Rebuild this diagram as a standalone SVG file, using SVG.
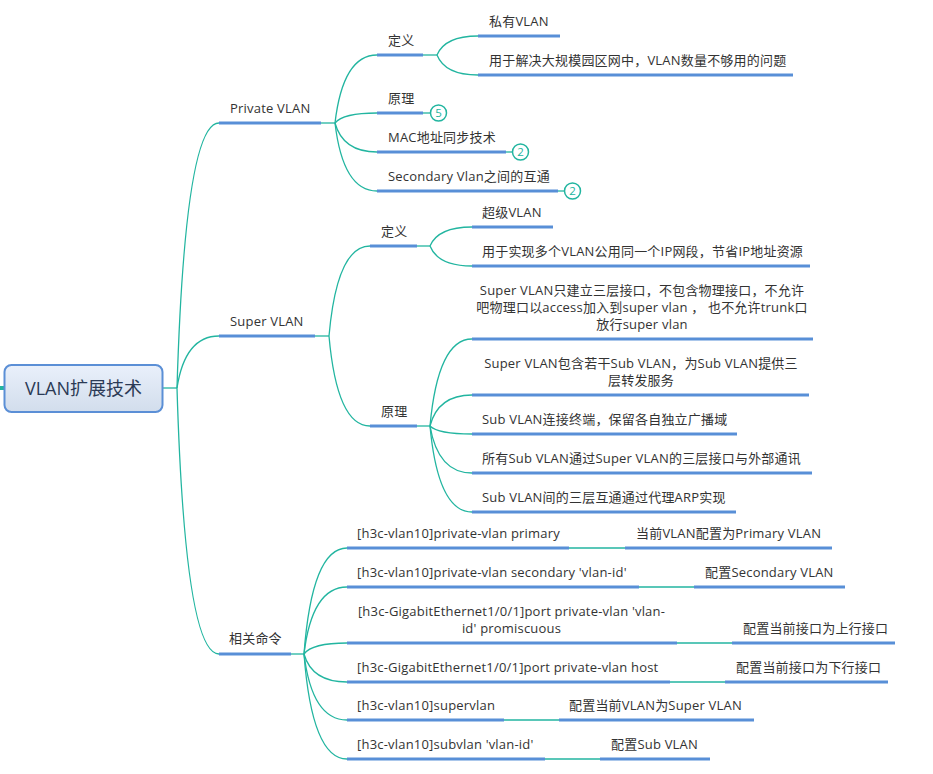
<svg xmlns="http://www.w3.org/2000/svg" width="933" height="774" viewBox="0 0 933 774">
<defs>
<linearGradient id="rootGrad" x1="0" y1="0" x2="0" y2="1">
<stop offset="0" stop-color="#e9f0fb"/>
<stop offset="1" stop-color="#d2ddec"/>
</linearGradient>
</defs>
<style>
text{font-family:"Open Sans","Noto Sans CJK SC",sans-serif;font-size:13px;fill:#333333;letter-spacing:0.2px}
.ul{stroke:#588fd7;stroke-width:3;fill:none}
.cn{stroke:#22b5a0;stroke-width:1.3;fill:none}
.badge circle{fill:#ffffff;stroke:#22b5a0;stroke-width:1.5}
.badge text{fill:#22b5a0;font-size:11.5px;letter-spacing:0;text-anchor:middle}
.mid{text-anchor:middle}
</style>
<g id="connectors">
<rect x="0" y="386" width="4" height="4" fill="#22b5a0"/>
<path class="cn" d="M163,388 H177"/>
<path class="cn" d="M177,388 Q185,123 219,123"/>
<path class="cn" d="M177,388 Q185,336 219,336"/>
<path class="cn" d="M177,388 Q185,654 219,654"/>
<path class="cn" d="M321,123 H335"/>
<path class="cn" d="M335,123 Q343,55 377,55"/>
<path class="cn" d="M335,123 Q343,113 377,113"/>
<path class="cn" d="M335,123 Q343,152 377,152"/>
<path class="cn" d="M335,123 Q343,191 377,191"/>
<path class="cn" d="M423,55 H437"/>
<path class="cn" d="M437,55 Q445,36 478,36"/>
<path class="cn" d="M437,55 Q445,75 478,75"/>
<path class="cn" d="M423,113 H430"/>
<path class="cn" d="M506,152 H512"/>
<path class="cn" d="M558,191 H564"/>
<path class="cn" d="M315,336 H329"/>
<path class="cn" d="M329,336 Q337,246 370,246"/>
<path class="cn" d="M329,336 Q337,426 370,426"/>
<path class="cn" d="M417,246 H430"/>
<path class="cn" d="M430,246 Q438,227 472,227"/>
<path class="cn" d="M430,246 Q438,266 472,266"/>
<path class="cn" d="M417,426 H430"/>
<path class="cn" d="M430,426 Q438,339 472,339"/>
<path class="cn" d="M430,426 Q438,395 472,395"/>
<path class="cn" d="M430,426 Q438,434 472,434"/>
<path class="cn" d="M430,426 Q438,473 472,473"/>
<path class="cn" d="M430,426 Q438,512 472,512"/>
<path class="cn" d="M291,654 H304"/>
<path class="cn" d="M304,654 Q312,548 347,548"/>
<path class="cn" d="M304,654 Q312,587 347,587"/>
<path class="cn" d="M304,654 Q312,643 347,643"/>
<path class="cn" d="M304,654 Q312,682 347,682"/>
<path class="cn" d="M304,654 Q312,720 347,720"/>
<path class="cn" d="M304,654 Q312,759 347,759"/>
<path class="cn" d="M569,548 H625"/>
<path class="cn" d="M639,587 H694"/>
<path class="cn" d="M677,643 H732"/>
<path class="cn" d="M670,682 H725"/>
<path class="cn" d="M504,720 H559"/>
<path class="cn" d="M545,759 H600"/>
</g>
<g id="root">
<rect x="4.5" y="365" width="158" height="47" rx="7" fill="url(#rootGrad)" stroke="#5b8fd6" stroke-width="2"/>
<text x="83.5" y="395" class="mid" style="font-size:18px;fill:#2b3a55;letter-spacing:0">VLAN扩展技术</text>
</g>
<g id="private-vlan">
<line class="ul" x1="219" y1="123" x2="321" y2="123"/>
<text x="230" y="113">Private VLAN</text>
</g>
<g id="pv-def">
<line class="ul" x1="377" y1="55" x2="423" y2="55"/>
<text x="388" y="45">定义</text>
</g>
<g id="pv-def-1">
<line class="ul" x1="478" y1="36" x2="560" y2="36"/>
<text x="489" y="26">私有VLAN</text>
</g>
<g id="pv-def-2">
<line class="ul" x1="478" y1="75" x2="793" y2="75"/>
<text x="489" y="65">用于解决大规模园区网中，VLAN数量不够用的问题</text>
</g>
<g id="pv-principle">
<line class="ul" x1="377" y1="113" x2="423" y2="113"/>
<text x="388" y="103">原理</text>
<g class="badge"><circle cx="438.5" cy="113" r="8"/><text x="438.5" y="117">5</text></g>
</g>
<g id="pv-mac">
<line class="ul" x1="377" y1="152" x2="506" y2="152"/>
<text x="388" y="142">MAC地址同步技术</text>
<g class="badge"><circle cx="520.5" cy="152" r="8"/><text x="520.5" y="156">2</text></g>
</g>
<g id="pv-secondary">
<line class="ul" x1="377" y1="191" x2="558" y2="191"/>
<text x="388" y="181">Secondary Vlan之间的互通</text>
<g class="badge"><circle cx="572.5" cy="191" r="8"/><text x="572.5" y="195">2</text></g>
</g>
<g id="super-vlan">
<line class="ul" x1="219" y1="336" x2="315" y2="336"/>
<text x="230" y="326">Super VLAN</text>
</g>
<g id="sv-def">
<line class="ul" x1="370" y1="246" x2="417" y2="246"/>
<text x="381" y="236">定义</text>
</g>
<g id="sv-def-1">
<line class="ul" x1="472" y1="227" x2="553" y2="227"/>
<text x="482" y="217">超级VLAN</text>
</g>
<g id="sv-def-2">
<line class="ul" x1="472" y1="266" x2="810" y2="266"/>
<text x="482" y="256">用于实现多个VLAN公用同一个IP网段，节省IP地址资源</text>
</g>
<g id="sv-principle">
<line class="ul" x1="370" y1="426" x2="417" y2="426"/>
<text x="381" y="416">原理</text>
</g>
<g id="sv-p-1">
<line class="ul" x1="472" y1="339" x2="813" y2="339"/>
<text x="642" y="295" class="mid">Super VLAN只建立三层接口，不包含物理接口，不允许</text>
<text x="642" y="312" class="mid">吧物理口以access加入到super vlan ， 也不允许trunk口</text>
<text x="642" y="329" class="mid">放行super vlan</text>
</g>
<g id="sv-p-2">
<line class="ul" x1="472" y1="395" x2="809" y2="395"/>
<text x="641" y="368" class="mid">Super VLAN包含若干Sub VLAN，为Sub VLAN提供三</text>
<text x="641" y="385" class="mid">层转发服务</text>
</g>
<g id="sv-p-3">
<line class="ul" x1="472" y1="434" x2="737" y2="434"/>
<text x="482" y="424">Sub VLAN连接终端，保留各自独立广播域</text>
</g>
<g id="sv-p-4">
<line class="ul" x1="472" y1="473" x2="812" y2="473"/>
<text x="482" y="463">所有Sub VLAN通过Super VLAN的三层接口与外部通讯</text>
</g>
<g id="sv-p-5">
<line class="ul" x1="472" y1="512" x2="736" y2="512"/>
<text x="482" y="502">Sub VLAN间的三层互通通过代理ARP实现</text>
</g>
<g id="commands">
<line class="ul" x1="219" y1="654" x2="291" y2="654"/>
<text x="229" y="643">相关命令</text>
</g>
<g id="cmd-1">
<line class="ul" x1="347" y1="548" x2="569" y2="548"/>
<text x="357" y="538">[h3c-vlan10]private-vlan primary</text>
</g>
<g id="cmd-1-desc">
<line class="ul" x1="625" y1="548" x2="832" y2="548"/>
<text x="636" y="538">当前VLAN配置为Primary VLAN</text>
</g>
<g id="cmd-2">
<line class="ul" x1="347" y1="587" x2="639" y2="587"/>
<text x="357" y="577">[h3c-vlan10]private-vlan secondary 'vlan-id'</text>
</g>
<g id="cmd-2-desc">
<line class="ul" x1="694" y1="587" x2="845" y2="587"/>
<text x="705" y="577">配置Secondary VLAN</text>
</g>
<g id="cmd-3">
<line class="ul" x1="347" y1="643" x2="677" y2="643"/>
<text x="511.5" y="616" class="mid">[h3c-GigabitEthernet1/0/1]port private-vlan 'vlan-</text>
<text x="511.5" y="633" class="mid">id' promiscuous</text>
</g>
<g id="cmd-3-desc">
<line class="ul" x1="732" y1="643" x2="895" y2="643"/>
<text x="743" y="633">配置当前接口为上行接口</text>
</g>
<g id="cmd-4">
<line class="ul" x1="347" y1="682" x2="670" y2="682"/>
<text x="357" y="672">[h3c-GigabitEthernet1/0/1]port private-vlan host</text>
</g>
<g id="cmd-4-desc">
<line class="ul" x1="725" y1="682" x2="888" y2="682"/>
<text x="736" y="672">配置当前接口为下行接口</text>
</g>
<g id="cmd-5">
<line class="ul" x1="347" y1="720" x2="504" y2="720"/>
<text x="357" y="710">[h3c-vlan10]supervlan</text>
</g>
<g id="cmd-5-desc">
<line class="ul" x1="559" y1="720" x2="754" y2="720"/>
<text x="569" y="710">配置当前VLAN为Super VLAN</text>
</g>
<g id="cmd-6">
<line class="ul" x1="347" y1="759" x2="545" y2="759"/>
<text x="357" y="749">[h3c-vlan10]subvlan 'vlan-id'</text>
</g>
<g id="cmd-6-desc">
<line class="ul" x1="600" y1="759" x2="710" y2="759"/>
<text x="611" y="749">配置Sub VLAN</text>
</g>
</svg>
